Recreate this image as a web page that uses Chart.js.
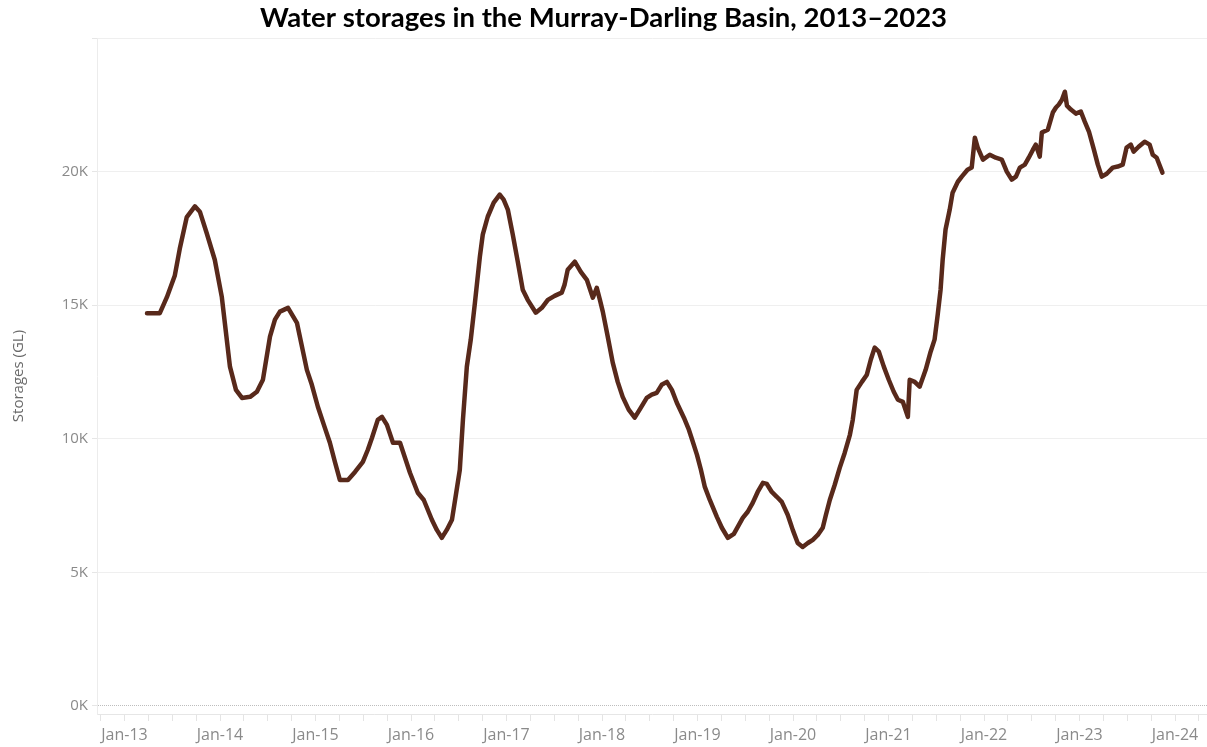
<!DOCTYPE html>
<html>
<head>
<meta charset="utf-8">
<title>Water storages in the Murray-Darling Basin</title>
<script src="https://cdn.jsdelivr.net/npm/chart.js@4"></script>
<style>
  html, body { margin: 0; padding: 0; background: #fff; }
  #storageChart { display: block; }
</style>
</head>
<body>
<canvas id="storageChart" width="1207" height="747"></canvas>
<script>
// setup the data (GL)
const dates = [
    '2013-03-28', '2013-05-16', '2013-06-12', '2013-07-12', '2013-07-31', '2013-08-27', '2013-09-27', '2013-10-16', '2013-11-11', '2013-12-12',
    '2014-01-08', '2014-02-08', '2014-03-03', '2014-03-26', '2014-04-26', '2014-05-22', '2014-06-14', '2014-07-11', '2014-07-30', '2014-08-18', '2014-09-18', '2014-10-22', '2014-11-29', '2014-12-18',
    '2015-01-10', '2015-02-02', '2015-02-25', '2015-03-16', '2015-04-04', '2015-05-05', '2015-06-01', '2015-07-01', '2015-07-20', '2015-08-05', '2015-08-27', '2015-09-12', '2015-10-01', '2015-10-24', '2015-11-20', '2015-12-09', '2015-12-28',
    '2016-01-27', '2016-02-19', '2016-03-21', '2016-04-09', '2016-04-28', '2016-05-17', '2016-06-06', '2016-06-21', '2016-07-06', '2016-07-18', '2016-08-02', '2016-08-17', '2016-09-02', '2016-09-21', '2016-10-02', '2016-10-21', '2016-11-13', '2016-12-06', '2016-12-21',
    '2017-01-06', '2017-01-25', '2017-02-13', '2017-03-04', '2017-03-23', '2017-04-23', '2017-05-16', '2017-06-08', '2017-07-04', '2017-07-31', '2017-08-11', '2017-08-23', '2017-09-19', '2017-10-12', '2017-11-04', '2017-11-27', '2017-12-12', '2017-12-24',
    '2018-01-04', '2018-01-23', '2018-02-11', '2018-03-02', '2018-03-21', '2018-04-13', '2018-05-06', '2018-05-29', '2018-06-21', '2018-07-10', '2018-07-29', '2018-08-17', '2018-09-06', '2018-09-25', '2018-10-14', '2018-11-10', '2018-11-29', '2018-12-14', '2018-12-30',
    '2019-01-14', '2019-01-29', '2019-02-17', '2019-03-16', '2019-04-04', '2019-04-27', '2019-05-20', '2019-06-23', '2019-07-12', '2019-07-31', '2019-08-19', '2019-09-08', '2019-09-23', '2019-10-12', '2019-10-31', '2019-11-19', '2019-12-12', '2019-12-31',
    '2020-01-19', '2020-02-07', '2020-02-27', '2020-03-17', '2020-04-05', '2020-04-24', '2020-05-06', '2020-05-21', '2020-06-09', '2020-06-28', '2020-07-17', '2020-08-06', '2020-08-17', '2020-09-01', '2020-09-21', '2020-10-10', '2020-10-25', '2020-11-09', '2020-11-25', '2020-12-14',
    '2021-01-02', '2021-01-21', '2021-02-06', '2021-02-25', '2021-03-16', '2021-03-23', '2021-04-11', '2021-04-30', '2021-05-23', '2021-06-11', '2021-06-26', '2021-07-08', '2021-07-19', '2021-07-27', '2021-08-07', '2021-08-23', '2021-09-03', '2021-09-23', '2021-10-08', '2021-10-30', '2021-11-15', '2021-11-27', '2021-12-08', '2021-12-28',
    '2022-01-23', '2022-02-15', '2022-03-10', '2022-03-29', '2022-04-17', '2022-05-03', '2022-05-18', '2022-06-06', '2022-06-21', '2022-07-07', '2022-07-18', '2022-08-02', '2022-08-10', '2022-09-02', '2022-09-21', '2022-10-03', '2022-10-14', '2022-10-26', '2022-11-06', '2022-11-14', '2022-11-29', '2022-12-18',
    '2023-01-06', '2023-01-21', '2023-02-06', '2023-02-25', '2023-03-12', '2023-03-27', '2023-04-15', '2023-05-08', '2023-05-27', '2023-06-15', '2023-06-30', '2023-07-16', '2023-07-27', '2023-08-15', '2023-09-07', '2023-09-26', '2023-10-08', '2023-10-23', '2023-11-14'
];

const storageGL = [
    14700, 14700, 15300, 16100, 17100, 18300, 18700, 18500, 17700, 16700,
    15300, 12700, 11830, 11530, 11570, 11760, 12210, 13820, 14460, 14760, 14900, 14340, 12580, 12020,
    11200, 10520, 9850, 9140, 8460, 8460, 8760, 9140, 9590, 10040, 10710, 10820, 10520, 9850, 9850, 9290, 8730,
    7980, 7710, 6970, 6590, 6290, 6590, 6970, 7900, 8840, 10710, 12700, 13710, 15090, 16820, 17640, 18310, 18840, 19140, 18950,
    18580, 17640, 16630, 15580, 15200, 14720, 14900, 15200, 15350, 15470, 15770, 16330, 16630, 16250, 15950, 15280, 15650, 15200,
    14760, 13820, 12850, 12130, 11570, 11090, 10790, 11160, 11530, 11650, 11720, 12020, 12130, 11830, 11350, 10790, 10340, 9890, 9400,
    8840, 8200, 7710, 7080, 6670, 6290, 6440, 7040, 7270, 7600, 8010, 8350, 8310, 8010, 7830, 7640, 7150, 6590,
    6100, 5950, 6100, 6220, 6400, 6670, 7150, 7710, 8280, 8910, 9470, 10150, 10710, 11830, 12130, 12400, 12960, 13410, 13260, 12700,
    12210, 11760, 11460, 11380, 10820, 12210, 12130, 11950, 12580, 13260, 13710, 14640, 15580, 16700, 17830, 18580, 19210, 19620, 19810, 20070, 20150, 21270, 20900, 20450,
    20630, 20520, 20450, 20000, 19700, 19810, 20150, 20260, 20520, 20820, 21010, 20560, 21460, 21570, 22210, 22400, 22510, 22690, 22990, 22470, 22320, 22170,
    22250, 21870, 21500, 20820, 20260, 19810, 19920, 20150, 20190, 20260, 20900, 21010, 20750, 20930, 21120, 21010, 20630, 20520, 19960
];

const yTickValues = [0, 5000, 10000, 15000, 20000, 25000];
const xFirstYear = 2013;
const xLastYear = 2024;

// date string -> decimal year
const toYear = (s) => {
    const d = new Date(s + 'T00:00:00Z');
    const y = d.getUTCFullYear();
    const start = Date.UTC(y, 0, 1);
    const end = Date.UTC(y + 1, 0, 1);
    return y + (d.getTime() - start) / (end - start);
};

const points = dates.map((d, i) => ({ x: toYear(d), y: storageGL[i] }));

const labelGrey = '#8a8a8a';

const config = {
    type: 'line',
    data: {
        datasets: [{
            label: 'Storages (GL)',
            data: points,
            borderColor: '#58291b',
            borderWidth: 4.5,
            borderJoinStyle: 'round',
            borderCapStyle: 'round',
            pointRadius: 0,
            tension: 0,
            fill: false
        }]
    },
    options: {
        responsive: false,
        animation: false,
        layout: { padding: 0 },
        plugins: {
            legend: { display: false },
            tooltip: { enabled: false },
            title: {
                display: true,
                text: 'Water storages in the Murray-Darling Basin, 2013\u20132023',
                color: '#000',
                font: { family: "Lato, 'Open Sans', sans-serif", size: 27.5, weight: 'bold', lineHeight: 1.2 },
                padding: { top: 2, bottom: 3 }
            }
        },
        scales: {
            x: {
                type: 'linear',
                min: 2012.712,
                max: 2024.335,
                afterBuildTicks: (scale) => {
                    const ticks = [];
                    for (let i = 0; i <= (xLastYear - xFirstYear) * 4 + 2; i++) {
                        ticks.push({ value: xFirstYear - 0.25 + i * 0.25 });
                    }
                    scale.ticks = ticks;
                },
                afterFit: (scale) => { scale.height = 33; },
                grid: {
                    drawOnChartArea: false,
                    drawTicks: true,
                    tickLength: 7,
                    tickColor: '#e4e4e4'
                },
                border: { display: true, color: '#e6e6e6', width: 1 },
                ticks: {
                    autoSkip: false,
                    maxRotation: 0,
                    minRotation: 0,
                    padding: 5,
                    color: labelGrey,
                    font: { family: "'Open Sans', sans-serif", size: 16 },
                    callback: (value) => {
                        if (Math.abs(value - Math.round(value)) > 1e-6) return '';
                        return 'Jan-' + String(Math.round(value)).slice(2);
                    }
                }
            },
            y: {
                min: -300,
                max: 25000,
                afterBuildTicks: (scale) => {
                    scale.ticks = yTickValues.map(v => ({ value: v }));
                },
                afterFit: (scale) => { scale.width = 97; },
                grid: {
                    color: (ctx) => (ctx.tick && ctx.tick.value === 0) ? '#bdbdbd' : '#efefef',
                    tickColor: '#e6e6e6',
                    tickLength: 5,
                    lineWidth: 1
                },
                border: {
                    display: true,
                    color: '#ececec',
                    dash: (ctx) => (ctx.tick && ctx.tick.value === 0) ? [1, 1] : []
                },
                ticks: {
                    padding: 4,
                    color: labelGrey,
                    font: { family: "'Open Sans', sans-serif", size: 15 },
                    callback: (value) => value === 25000 ? '' : (value / 1000) + 'K'
                },
                title: {
                    display: true,
                    text: 'Storages (GL)',
                    color: '#6a6a6a',
                    font: { family: "'Open Sans', sans-serif", size: 15 },
                    padding: { top: 10, bottom: 0 }
                }
            }
        }
    }
};

// render init block
const chartStorage = new Chart(
    document.getElementById('storageChart'),
    config
);
</script>
</body>
</html>
